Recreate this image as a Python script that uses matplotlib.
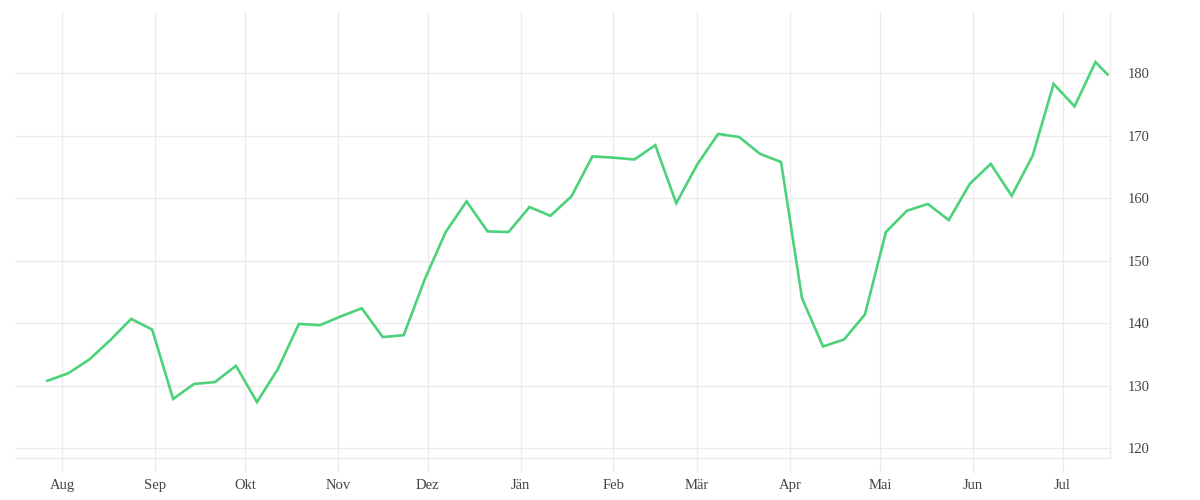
import matplotlib
matplotlib.use("Agg")
import matplotlib.pyplot as plt
import pandas as pd

# Data
week_start = "2022-07-27"
n_weeks = 51
last_date = "2023-07-16"
values = [130.8, 132.0, 134.2, 137.3, 140.7, 139.0, 127.9, 130.3, 130.6, 133.2,
          127.4, 132.7, 139.9, 139.7, 141.1, 142.4, 137.8, 138.1, 147.0, 154.6,
          159.5, 154.7, 154.6, 158.6, 157.2, 160.3, 166.7, 166.5, 166.2, 168.5,
          159.2, 165.4, 170.3, 169.8, 167.1, 165.8, 144.0, 136.3, 137.4, 141.4,
          154.6, 158.0, 159.1, 156.5, 162.3, 165.5, 160.4, 166.8, 178.3, 174.7,
          181.8, 179.8]
month_ticks = ["2022-08-01", "2022-09-01", "2022-10-01", "2022-11-01", "2022-12-01",
               "2023-01-01", "2023-02-01", "2023-03-01", "2023-04-01", "2023-05-01",
               "2023-06-01", "2023-07-01"]
month_labels = ["Aug", "Sep", "Okt", "Nov", "Dez", "Jän", "Feb", "Mär", "Apr", "Mai", "Jun", "Jul"]
y_ticks = [120, 130, 140, 150, 160, 170, 180]

dates = list(pd.date_range(week_start, periods=n_weeks, freq="7D")) + [pd.Timestamp(last_date)]

grid_c = "#ebebeb"
text_c = "#444444"
line_c = "#4cd27a"

fig = plt.figure(figsize=(12, 5), dpi=100)
ax = fig.add_axes([15/1200, 1-458/500, (1110-15)/1200, (458-12)/500])

ax.plot(dates, values, color=line_c, lw=1.9, solid_joinstyle="miter", zorder=3)

ax.set_xlim(pd.Timestamp("2022-07-16 05:00"), pd.Timestamp("2023-07-16 20:00"))
ax.set_ylim(118.45, 189.8)

ax.set_xticks([pd.Timestamp(d) for d in month_ticks])
ax.set_xticklabels(month_labels)
ax.yaxis.tick_right()
ax.set_yticks(y_ticks)
ax.set_yticklabels([str(v) for v in y_ticks])

ax.grid(True, color=grid_c, lw=1, zorder=0)
for s in ["top", "left"]:
    ax.spines[s].set_visible(False)
ax.spines["bottom"].set_color(grid_c)
ax.spines["right"].set_color(grid_c)
ax.spines["bottom"].set_linewidth(1)
ax.spines["right"].set_linewidth(1)

ax.tick_params(axis="x", length=10, width=1, color=grid_c, pad=5,
               labelsize=10.5, labelcolor=text_c)
ax.tick_params(axis="y", length=0, pad=12.5, labelsize=10.5, labelcolor=text_c)
for lab in ax.get_xticklabels() + ax.get_yticklabels():
    lab.set_fontfamily(["Liberation Serif", "DejaVu Serif"])

fig.savefig("out.png", dpi=100, facecolor="white")
